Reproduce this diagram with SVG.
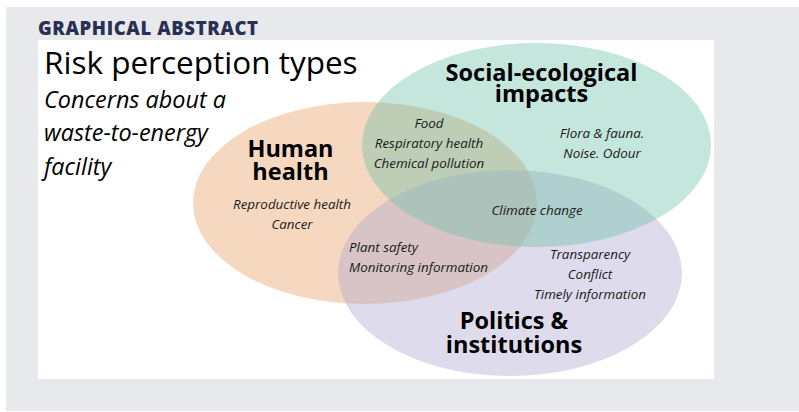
<svg xmlns="http://www.w3.org/2000/svg" width="799" height="412" viewBox="0 0 799 412">
<style>
.h{font-family:"Open Sans","Liberation Sans",sans-serif;font-weight:bold;font-size:23.5px;fill:#000;text-anchor:middle}
.i{font-family:"Open Sans","Liberation Sans",sans-serif;font-style:italic;font-size:13.4px;fill:#1a1a1a;text-anchor:middle}
.l{text-anchor:start}
.e{opacity:0.4}
</style>
<rect width="799" height="412" fill="#fff"/>
<rect x="6" y="7" width="793" height="404" fill="#e8e9ed"/>
<rect x="38" y="40" width="676" height="339" fill="#fff"/>
<text x="38" y="35" font-family="Open Sans, Liberation Sans, sans-serif" font-weight="800" font-size="18.5" fill="#2a3052" textLength="220" lengthAdjust="spacing">GRAPHICAL ABSTRACT</text>
<text x="44" y="74" font-family="Open Sans, Liberation Sans, sans-serif" font-size="31.5" fill="#000">Risk perception types</text>
<g font-family="Open Sans, Liberation Sans, sans-serif" font-style="italic" font-size="23.4" fill="#000">
<text x="44" y="108">Concerns about a</text>
<text x="44" y="141">waste-to-energy</text>
<text x="44" y="175">facility</text>
</g>
<g id="human-health">
<ellipse class="e" cx="365" cy="203" rx="172" ry="101" fill="#e89e62"/>
</g>
<g id="politics">
<ellipse class="e" cx="510" cy="273" rx="172" ry="103" fill="#aca5cf"/>
</g>
<g id="social-ecological">
<ellipse class="e" cx="536.5" cy="145" rx="174.5" ry="102" fill="#6cc0a8"/>
</g>
<g id="labels">
<text class="h" x="290.5" y="157">Human</text>
<text class="h" x="290.5" y="180">health</text>
<text class="h" x="541.5" y="81">Social-ecological</text>
<text class="h" x="541.5" y="102">impacts</text>
<text class="h" x="514" y="329">Politics &amp;</text>
<text class="h" x="514" y="353">institutions</text>
<text class="i" x="429" y="128">Food</text>
<text class="i" x="429" y="148">Respiratory health</text>
<text class="i" x="429" y="168">Chemical pollution</text>
<text class="i" x="602" y="138">Flora &amp; fauna.</text>
<text class="i" x="602" y="158">Noise. Odour</text>
<text class="i" x="292" y="209">Reproductive health</text>
<text class="i" x="292" y="229">Cancer</text>
<text class="i l" x="349" y="252">Plant safety</text>
<text class="i l" x="349" y="272">Monitoring information</text>
<text class="i" x="537" y="215">Climate change</text>
<text class="i" x="590" y="259">Transparency</text>
<text class="i" x="590" y="279">Conflict</text>
<text class="i" x="590" y="299">Timely information</text>
</g>
<g id="connectors"/>
</svg>
